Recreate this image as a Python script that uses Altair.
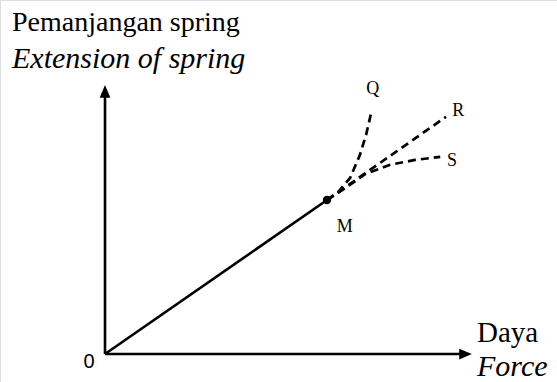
import altair as alt
import pandas as pd

# Linear region: from the origin up to the elastic limit M
lin_force = [0.0, 5.0]
lin_ext = [0.0, 3.5]

# Branches beyond M
q_force = [5.0, 5.25, 5.52, 5.74, 5.88, 6.01]
q_ext = [3.5, 3.68, 4.0, 4.52, 4.98, 5.55]
r_force = [5.0, 7.68]
r_ext = [3.5, 5.39]
s_force = [5.0, 5.41, 5.86, 6.42, 6.98, 7.55]
s_ext = [3.5, 3.77, 4.09, 4.30, 4.41, 4.48]

# Axis extents (arrowhead centres)
x_axis_end = 8.12
y_axis_end = 5.97

X_DOM = [-2.365, 10.18]
Y_DOM = [-0.636, 8.045]

xs = alt.Scale(domain=X_DOM, nice=False, zero=False)
ys = alt.Scale(domain=Y_DOM, nice=False, zero=False)


def table(fx, ey, name):
    return pd.DataFrame({"f": fx, "e": ey, "o": range(len(fx)), "branch": name})


lin = table(lin_force, lin_ext, "OM")
branches = pd.concat([
    table(q_force, q_ext, "Q"),
    table(r_force, r_ext, "R"),
    table(s_force, s_ext, "S"),
])

enc = dict(x=alt.X("f:Q", scale=xs, axis=None), y=alt.Y("e:Q", scale=ys, axis=None))

linear = alt.Chart(lin).mark_line(color="black", strokeWidth=2.6).encode(**enc, order="o:Q")

dashed = alt.Chart(branches).mark_line(
    color="black", strokeWidth=2.7, strokeDash=[8, 5]
).encode(**enc, order="o:Q", detail="branch:N")

m_point = alt.Chart(pd.DataFrame({"f": [5.0], "e": [3.5]})).mark_circle(
    color="black", size=70, opacity=1
).encode(**enc)

# Axes drawn as arrows
axes_df = pd.DataFrame({
    "f": [0.0, 0.0], "e": [0.0, 0.0],
    "f2": [x_axis_end, 0.0], "e2": [0.0, y_axis_end],
})
axes = alt.Chart(axes_df).mark_rule(color="black", strokeWidth=2.6).encode(
    x=alt.X("f:Q", scale=xs, axis=None),
    y=alt.Y("e:Q", scale=ys, axis=None),
    x2="f2:Q",
    y2="e2:Q",
)

x_head = alt.Chart(pd.DataFrame({"f": [x_axis_end], "e": [0.0]})).mark_point(
    shape="M1,0 L-1,-0.85 L-1,0.85 Z", filled=True, color="black", size=160, opacity=1
).encode(**enc)

y_head = alt.Chart(pd.DataFrame({"f": [0.0], "e": [y_axis_end]})).mark_point(
    shape="M0,-1 L-0.85,1 L0.85,1 Z", filled=True, color="black", size=160, opacity=1
).encode(**enc)

# Point labels
pt_labels = pd.DataFrame({
    "f": [6.03, 7.82, 7.70, 5.40],
    "e": [5.90, 5.40, 4.27, 2.78],
    "t": ["Q", "R", "S", "M"],
    "a": ["center", "left", "left", "center"],
})
labels_c = alt.Chart(pt_labels[pt_labels.a == "center"]).mark_text(
    font="Liberation Serif", fontSize=18, color="black", align="center", baseline="alphabetic"
).encode(**enc, text="t:N")
labels_l = alt.Chart(pt_labels[pt_labels.a == "left"]).mark_text(
    font="Liberation Serif", fontSize=18, color="black", align="left", baseline="alphabetic"
).encode(**enc, text="t:N")

zero = alt.Chart(pd.DataFrame({"f": [-0.36], "e": [-0.32], "t": ["0"]})).mark_text(
    font="Liberation Sans", fontSize=20, color="black", align="center", baseline="alphabetic"
).encode(**enc, text="t:N")

# Axis titles
y_title1 = alt.Chart(pd.DataFrame({"t": ["Pemanjangan spring"]})).mark_text(
    font="Liberation Serif", fontSize=28, color="black", align="left", baseline="alphabetic"
).encode(x=alt.value(12), y=alt.value(31), text="t:N")
y_title2 = alt.Chart(pd.DataFrame({"t": ["Extension of spring"]})).mark_text(
    font="Liberation Serif", fontSize=30, fontStyle="italic", color="black",
    align="left", baseline="alphabetic"
).encode(x=alt.value(12), y=alt.value(68), text="t:N")
x_title1 = alt.Chart(pd.DataFrame({"t": ["Daya"]})).mark_text(
    font="Liberation Serif", fontSize=29, color="black", align="left", baseline="alphabetic"
).encode(x=alt.value(477), y=alt.value(342), text="t:N")
x_title2 = alt.Chart(pd.DataFrame({"t": ["Force"]})).mark_text(
    font="Liberation Serif", fontSize=30, fontStyle="italic", color="black",
    align="left", baseline="alphabetic"
).encode(x=alt.value(477), y=alt.value(376), text="t:N")

chart = alt.layer(
    axes, x_head, y_head, linear, dashed, m_point,
    labels_c, labels_l, zero, y_title1, y_title2, x_title1, x_title2,
).properties(
    width=557, height=382,
    autosize=alt.AutoSizeParams(type="fit", contains="padding"),
    padding=0,
).configure_view(stroke=None).configure(background="white")

chart.save("out.html", embed_options={"renderer": "svg", "actions": False})
